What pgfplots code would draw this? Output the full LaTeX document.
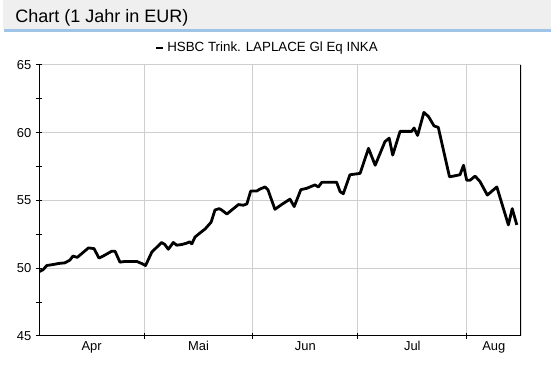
\documentclass[border=0pt]{standalone}
\usepackage{fontspec}
\setmainfont{Liberation Sans}
\usepackage{pgfplots}
\pgfplotsset{compat=1.18}
\definecolor{bandgray}{HTML}{EFEFEF}
\definecolor{bandblue}{HTML}{9FC4E8}
\definecolor{gridgray}{HTML}{CFCFCF}
\begin{document}
\begin{tikzpicture}
\path[use as bounding box, fill=white] (0,0) rectangle (415.5pt,275.25pt);
% header band
\fill[bandgray] (2.25pt,253.5pt) rectangle (413.25pt,275pt);
\draw[bandblue, line width=2.25pt] (3pt,252.15pt) -- (413.25pt,252.15pt);
\node[anchor=base west, inner sep=0pt, font=\fontsize{13.5}{15}\selectfont] at (11.25pt,258.2pt) {Chart (1 Jahr in EUR)};
\begin{axis}[
  at={(29.25pt,23.25pt)}, anchor=south west,
  scale only axis, width=361.5pt, height=203.25pt,
  xmin=0, xmax=137.5, ymin=45, ymax=65,
  xtick={30,61,91,122}, xticklabels={,,,},
  xmajorgrids,
  extra x ticks={15,45.5,76,106.5,129.75},
  extra x tick labels={Apr,Mai,Jun,Jul,Aug},
  extra x tick style={major tick length=0pt, grid=none},
  ytick={45,50,55,60,65}, minor ytick={47.5,52.5,57.5,62.5},
  ymajorgrids,
  grid style={color=gridgray, line width=0.75pt},
  tick align=center, tick pos=left,
  major tick length=4.5pt, minor tick length=4.5pt,
  every tick/.style={black, line width=0.75pt},
  axis line style={draw=none},
  ticklabel style={font=\fontsize{9.7}{11}\selectfont},
  xticklabel style={text height=7.5pt, text depth=2pt},
  /pgf/number format/assume math mode=true,
  legend style={at={(0.474,1.063)}, anchor=center, draw=none, fill=none,
    font=\fontsize{10}{12}\selectfont, inner sep=0pt},
  legend image code/.code={\draw[black, line width=1.6pt] (0pt,0pt) -- (3pt,0pt); \path (0pt,0pt) -- (5.5pt,0pt);},
]
\addplot[black, line width=2.1pt, line join=round] coordinates {
(0.1,49.75) (1.2,49.9) (2.2,50.2) (4.6,50.3) (5.5,50.35) (7.4,50.4)
(8.8,50.6) (9.7,50.9) (10.9,50.8) (14.1,51.5) (15.7,51.45) (17.1,50.75)
(18.3,50.9) (20.7,51.25) (21.7,51.25) (23.1,50.45) (24.5,50.5) (27.9,50.5)
(29.3,50.35) (30.4,50.2) (32.2,51.2) (33.4,51.5) (35.0,51.9) (35.9,51.75)
(36.9,51.4) (38.3,51.9) (39.3,51.7) (40.7,51.75) (42.1,51.85) (43.0,51.95)
(43.6,51.8) (44.5,52.3) (45.9,52.6) (47.4,52.9) (49.1,53.4) (50.2,54.3)
(51.4,54.4) (52.1,54.3) (53.6,54.0) (55.0,54.3) (56.9,54.7) (58.3,54.65)
(59.3,54.75) (60.4,55.7) (62.1,55.7) (63.1,55.85) (64.5,56.0) (65.3,55.8)
(67.3,54.35) (69.2,54.7) (71.6,55.1) (72.8,54.55) (74.7,55.8) (76.4,55.9)
(78.7,56.15) (79.7,56.0) (80.7,56.35) (84.9,56.35) (85.9,55.65) (86.8,55.5)
(88.7,56.9) (91.6,57.0) (94.0,58.85) (95.9,57.6) (98.7,59.35) (99.9,59.6)
(100.9,58.35) (103.0,60.1) (106.3,60.1) (107.0,60.35) (108.0,59.8) (109.8,61.5)
(111.1,61.2) (112.7,60.5) (113.9,60.4) (117.1,56.75) (118.2,56.8) (120.1,56.9)
(121.1,57.6) (122.0,56.5) (123.0,56.5) (124.4,56.8) (125.8,56.4) (127.9,55.4)
(130.6,56.0) (133.9,53.2) (135.0,54.4) (136.3,53.2)
};
\addlegendentry{HSBC Trink. LAPLACE Gl Eq INKA}
\draw[black, line width=1.5pt] (rel axis cs:0,1) -- (rel axis cs:0,0) -- (rel axis cs:1,0);
\draw[black, line width=0.9pt] (rel axis cs:1,0) -- (rel axis cs:1,1);
\end{axis}
\end{tikzpicture}
\end{document}
